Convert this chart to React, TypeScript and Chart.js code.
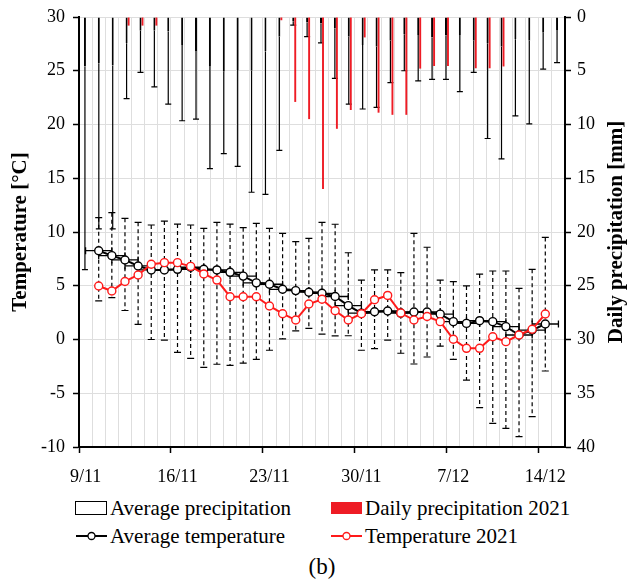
import React, { useEffect, useRef } from 'react';
import Chart from 'chart.js/auto';

// ---------- data ----------
const dayLabels = [
  '10/11', '11/11', '12/11', '13/11', '14/11', '15/11', '16/11', '17/11', '18/11', '19/11',
  '20/11', '21/11', '22/11', '23/11', '24/11', '25/11', '26/11', '27/11', '28/11', '29/11',
  '30/11', '1/12', '2/12', '3/12', '4/12', '5/12', '6/12', '7/12', '8/12', '9/12',
  '10/12', '11/12', '12/12', '13/12', '14/12',
];
const tickDays = [0, 7, 14, 21, 28, 35];
const tickLabels = ['9/11', '16/11', '23/11', '30/11', '7/12', '14/12'];

// precipitation [mm]
const avgPrecip = [
  4.6, 4.3, 4.5, 2.45, 1.27, 1.27, 1.36, 2.6, 3.16, 4.56,
  5.1, 4.93, 5.0, 3.2, 1.83, 0.4, 0.5, 0.6, 1.05, 1.83,
  2.6, 2.76, 2.2, 1.6, 1.67, 1.9, 1.72, 1.67, 2.2, 2.45,
  2.76, 2.08, 2.2, 1.46, 1.2,
];
const avgPrecipHigh = [
  23.5, 19.7, 19.7, 7.6, 5.15, 6.5, 8.1, 9.65, 9.5, 14.1,
  12.7, 13.9, 16.3, 16.5, 12.4, 0.75, 1.83, 2.4, 5.7, 8.1,
  8.56, 8.4, 6.1, 5.0, 5.95, 5.8, 5.8, 6.95, 5.15, 11.3,
  13.2, 9.2, 9.95, 4.84, 4.25,
];
const dailyPrecip2021 = [
  0, 0, 0, 0.8, 0.8, 0.8, 0, 0, 0, 0,
  0, 0, 0, 0, 0.3, 7.9, 9.5, 16.0, 10.4, 8.65,
  1.9, 8.9, 9.1, 9.1, 4.8, 4.56, 4.56, 0, 4.77, 4.77,
  4.6, 0, 0, 0, 0,
];

// temperature [°C]
const avgTemp = [
  8.26, 7.8, 7.4, 6.84, 6.47, 6.47, 6.53, 6.72, 6.53, 6.47,
  6.25, 5.9, 5.27, 5.14, 4.67, 4.55, 4.4, 4.3, 4.0, 3.15,
  2.45, 2.58, 2.65, 2.46, 2.56, 2.56, 2.36, 1.66, 1.5, 1.75,
  1.66, 1.2, 0.42, 0.88, 1.44,
];
const avgTempHigh = [
  11.33, 11.8, 11.27, 10.9, 10.65, 11.02, 10.74, 10.65, 10.34, 10.9,
  10.74, 10.4, 10.81, 10.34, 9.88, 9.1, 9.41, 10.9, 10.72, 8.07,
  5.53, 6.47, 6.47, 6.22, 9.88, 8.58, 5.53, 5.38, 4.98, 6.09,
  6.37, 6.37, 4.76, 6.53, 9.5,
];
const avgTempLow = [
  3.6, 3.9, 2.7, 1.4, 0.0, -0.05, -1.2, -1.75, -2.6, -2.3,
  -2.4, -2.2, -1.85, -1.0, 0.05, 0.8, 1.04, 0.5, 0.33, 0.35,
  -1.0, -0.85, -0.05, -1.28, -2.28, -1.63, -0.62, -1.84, -3.77, -6.34,
  -7.8, -8.26, -9.04, -7.18, -2.93,
];
const temp2021 = [
  4.98, 4.51, 5.4, 6.0, 7.0, 7.15, 7.15, 6.8, 6.1, 5.53,
  3.98, 3.98, 3.98, 3.12, 2.4, 1.81, 3.3, 3.74, 2.68, 1.81,
  2.4, 3.7, 4.1, 2.46, 1.81, 2.14, 1.66, 0.02, -0.82, -0.82,
  0.26, -0.2, 0.42, 0.95, 2.37,
];
const dayOffset = 1; // first plotted day is one day after 9/11
const xErrDays = 1;

const FONT = "'Liberation Serif', 'Times New Roman', serif";

const errorBarPlugin = {
  id: 'errorBars',
  beforeDatasetsDraw(chart: any) {
    const ctx = chart.ctx;
    const xs = chart.scales.x;
    const ys = chart.scales.y;
    const y2 = chart.scales.y2;
    const barMeta = chart.getDatasetMeta(2);
    ctx.save();
    ctx.strokeStyle = '#000';
    // precipitation whiskers (solid)
    ctx.lineWidth = 1.2;
    ctx.setLineDash([]);
    barMeta.data.forEach((bar: any, i: number) => {
      const cx = bar.x;
      const a = y2.getPixelForValue(avgPrecip[i]);
      const b = y2.getPixelForValue(avgPrecipHigh[i]);
      ctx.beginPath();
      ctx.moveTo(cx, a);
      ctx.lineTo(cx, b);
      ctx.moveTo(cx - 3, b);
      ctx.lineTo(cx + 3, b);
      ctx.stroke();
    });
    // temperature vertical error bars (dashed)
    avgTemp.forEach((t, i) => {
      const px = xs.getPixelForValue(i + dayOffset);
      const top = ys.getPixelForValue(avgTempHigh[i]);
      const bot = ys.getPixelForValue(avgTempLow[i]);
      ctx.lineWidth = 1.2;
      ctx.setLineDash([4, 3]);
      ctx.beginPath();
      ctx.moveTo(px, top);
      ctx.lineTo(px, bot);
      ctx.stroke();
      ctx.setLineDash([]);
      ctx.beginPath();
      ctx.moveTo(px - 3.5, top);
      ctx.lineTo(px + 3.5, top);
      ctx.moveTo(px - 3.5, bot);
      ctx.lineTo(px + 3.5, bot);
      ctx.stroke();
    });
    // temperature horizontal error bars (±1 day)
    ctx.lineWidth = 1.3;
    ctx.setLineDash([]);
    avgTemp.forEach((t, i) => {
      const l = xs.getPixelForValue(i + dayOffset - xErrDays);
      const r = xs.getPixelForValue(i + dayOffset + xErrDays);
      const py = ys.getPixelForValue(t);
      ctx.beginPath();
      ctx.moveTo(l, py);
      ctx.lineTo(r, py);
      ctx.moveTo(l, py - 3.5);
      ctx.lineTo(l, py + 3.5);
      ctx.moveTo(r, py - 3.5);
      ctx.lineTo(r, py + 3.5);
      ctx.stroke();
    });
    ctx.restore();
  },
  afterDraw(chart: any) {
    const ctx = chart.ctx;
    const area = chart.chartArea;
    ctx.save();
    ctx.fillStyle = '#000';
    ctx.font = `bold 21px ${FONT}`;
    ctx.textAlign = 'center';
    ctx.textBaseline = 'middle';
    ctx.translate(area.right + 52, (area.top + area.bottom) / 2);
    ctx.rotate(-Math.PI / 2);
    ctx.fillText('Daily precipitation [mm]', 0, 0);
    ctx.restore();
  },
};

function LegendIcon({ kind }: { kind: string }) {
  if (kind === 'avgPrecip') {
    return (
      <svg width="33" height="16">
        <rect x="0.5" y="1.5" width="31" height="13" fill="#fff" stroke="#000" strokeWidth="1" />
      </svg>
    );
  }
  if (kind === 'daily') {
    return (
      <svg width="33" height="16">
        <rect x="1" y="2" width="31" height="12" fill="#ee1c25" />
      </svg>
    );
  }
  const color = kind === 'avgTemp' ? '#000' : '#ff1a1a';
  return (
    <svg width="33" height="16">
      <line x1="1" y1="8" x2="32" y2="8" stroke={color} strokeWidth="2" />
      <circle cx="16.5" cy="8" r="3.5" fill="#fff" stroke={color} strokeWidth="1.3" />
    </svg>
  );
}

export default function App() {
  const ref = useRef<HTMLCanvasElement | null>(null);

  useEffect(() => {
    if (!ref.current) return;
    const chart = new Chart(ref.current, {
      type: 'bar',
      data: {
        labels: dayLabels,
        datasets: [
          {
            type: 'line',
            label: 'Temperature 2021',
            data: temp2021.map((v, i) => ({ x: i + dayOffset, y: v })),
            xAxisID: 'x',
            yAxisID: 'y',
            borderColor: '#ff1a1a',
            borderWidth: 2,
            pointRadius: 4,
            pointBorderWidth: 1.4,
            pointBackgroundColor: '#fff',
            pointBorderColor: '#ff1a1a',
            tension: 0,
            order: 0,
          } as any,
          {
            type: 'line',
            label: 'Average temperature',
            data: avgTemp.map((v, i) => ({ x: i + dayOffset, y: v })),
            xAxisID: 'x',
            yAxisID: 'y',
            borderColor: '#000',
            borderWidth: 2,
            pointRadius: 4,
            pointBorderWidth: 1.4,
            pointBackgroundColor: '#fff',
            pointBorderColor: '#000',
            tension: 0,
            order: 1,
          } as any,
          {
            type: 'bar',
            label: 'Average precipitation',
            data: avgPrecip,
            xAxisID: 'xb',
            yAxisID: 'y2',
            backgroundColor: '#9a9a9a',
            borderColor: '#000',
            borderWidth: 1,
            categoryPercentage: 0.58,
            barPercentage: 1,
            order: 2,
          } as any,
          {
            type: 'bar',
            label: 'Daily precipitation 2021',
            data: dailyPrecip2021,
            xAxisID: 'xb',
            yAxisID: 'y2',
            backgroundColor: '#ee1c25',
            borderWidth: 0,
            categoryPercentage: 0.58,
            barPercentage: 0.95,
            order: 3,
          } as any,
        ],
      },
      options: {
        responsive: false,
        animation: false,
        layout: { padding: { top: 0, left: 0, right: 0, bottom: 0 } },
        plugins: { legend: { display: false }, tooltip: { enabled: false } },
        scales: {
          xb: {
            type: 'category',
            display: false,
            offset: true,
            grid: { display: false },
          },
          x: {
            type: 'linear',
            position: 'bottom',
            min: 0,
            max: 36,
            afterFit: (s: any) => { s.height = 43; },
            ticks: {
              stepSize: 1,
              autoSkip: false,
              maxRotation: 0,
              padding: 15,
              color: '#000',
              font: { family: FONT, size: 18, lineHeight: 1 },
              callback: (v: any) => {
                const k = tickDays.indexOf(Number(v));
                return k >= 0 ? tickLabels[k] : '';
              },
            },
            grid: {
              color: '#dedede',
              lineWidth: 1,
              tickLength: 6,
              tickColor: (c: any) => (tickDays.indexOf(c.tick?.value) >= 0 ? '#000' : 'rgba(0,0,0,0)'),
              tickWidth: 1.5,
            },
            border: { color: '#000', width: 2 },
          },
          y: {
            type: 'linear',
            position: 'left',
            min: -10,
            max: 30,
            afterFit: (s: any) => { s.width = 71; },
            ticks: { stepSize: 5, color: '#000', padding: 8, font: { family: FONT, size: 18, lineHeight: 1 } },
            grid: { color: '#dedede', lineWidth: 1, tickLength: 6, tickColor: '#000', tickWidth: 1.5 },
            border: { color: '#000', width: 2 },
            title: {
              display: true,
              text: 'Temperature [°C]',
              color: '#000',
              padding: { top: 0, bottom: 0 },
              font: { family: FONT, size: 21, weight: 'bold' },
            },
          },
          y2: {
            type: 'linear',
            position: 'right',
            min: 0,
            max: 40,
            reverse: true,
            afterFit: (s: any) => { s.width = 63; },
            ticks: { stepSize: 5, color: '#000', padding: 6, font: { family: FONT, size: 18, lineHeight: 1 } },
            grid: { drawOnChartArea: false, tickLength: 6, tickColor: '#000', tickWidth: 1.5 },
            border: { color: '#000', width: 2 },
          },
        },
      } as any,
      plugins: [errorBarPlugin],
    });
    return () => chart.destroy();
  }, []);

  const legendText: React.CSSProperties = {
    fontFamily: FONT,
    fontSize: 21,
    color: '#000',
    marginLeft: 2,
    whiteSpace: 'nowrap',
  };
  const item = (left: number, top: number): React.CSSProperties => ({
    position: 'absolute',
    left,
    top,
    height: 24,
    display: 'flex',
    alignItems: 'center',
  });

  return (
    <div style={{ position: 'relative', width: 620, height: 572 }}>
      <canvas
        ref={ref}
        width={620}
        height={490}
        style={{ display: 'block', position: 'absolute', left: 0, top: -8 }}
      />
      <div style={item(67, 488)}>
        <LegendIcon kind="avgPrecip" />
        <span style={legendText}>Average precipitation</span>
      </div>
      <div style={item(322, 488)}>
        <LegendIcon kind="daily" />
        <span style={legendText}>Daily precipitation 2021</span>
      </div>
      <div style={item(67, 516)}>
        <LegendIcon kind="avgTemp" />
        <span style={legendText}>Average temperature</span>
      </div>
      <div style={item(322, 516)}>
        <LegendIcon kind="temp" />
        <span style={legendText}>Temperature 2021</span>
      </div>
      <div
        style={{
          position: 'absolute',
          left: 71,
          width: 486,
          top: 546,
          textAlign: 'center',
          fontFamily: FONT,
          fontSize: 23,
          color: '#000',
        }}
      >
        (b)
      </div>
    </div>
  );
}
